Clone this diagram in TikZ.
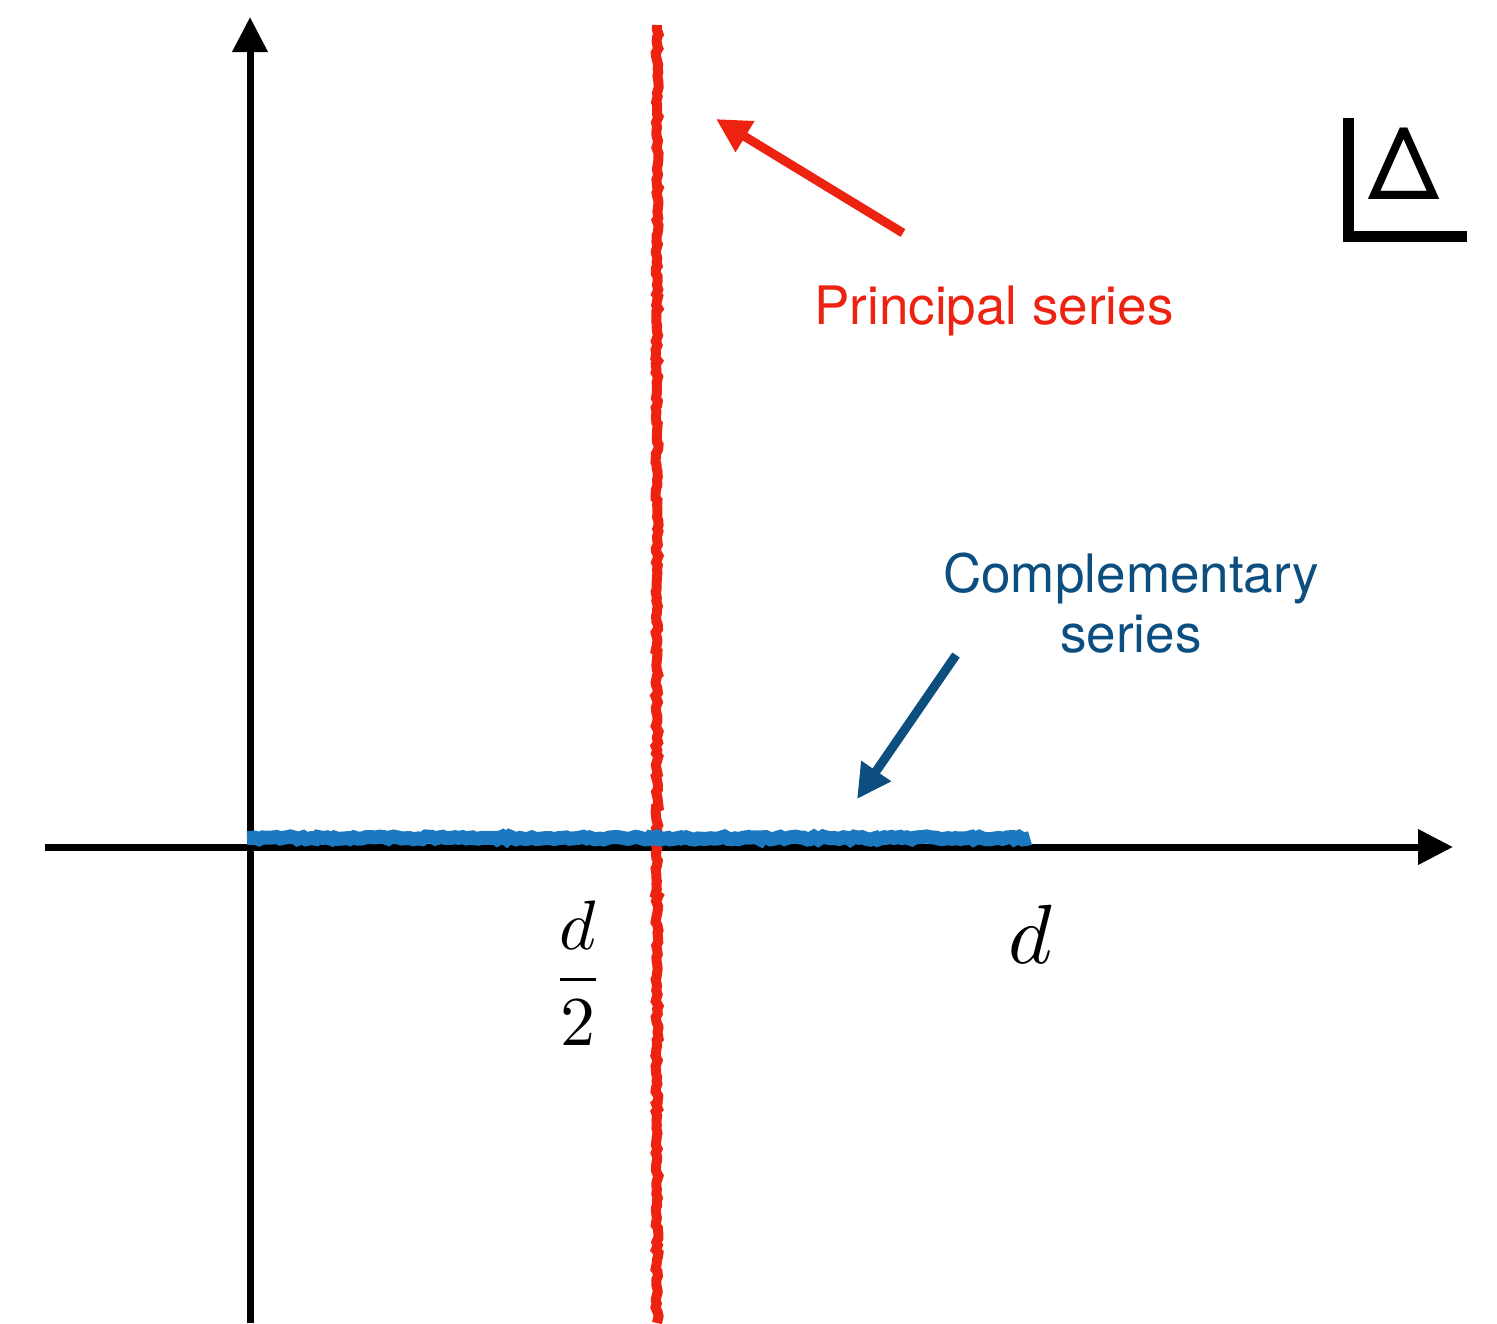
\documentclass[tikz,border=0pt]{standalone}
\usepackage{fontspec}
\setmainfont{TeX Gyre Heros}
\usetikzlibrary{arrows.meta,decorations.pathmorphing}
\definecolor{pred}{HTML}{EE2211}
\definecolor{cblue}{HTML}{1C79C0}
\definecolor{cdark}{HTML}{0B4E7F}
\begin{document}
\begin{tikzpicture}[x=0.5pt,y=-0.5pt,
  axis/.style={line width=3.5pt,-{Triangle[length=17.5pt,width=17pt]}},
  pointer/.style={line width=4.5pt,-{Triangle[length=17pt,width=17pt]}},
  rough/.style={decorate,decoration={random steps,segment length=2pt,amplitude=0.8pt}},
  lbl/.style={font=\fontsize{26.5}{30}\selectfont,anchor=base,inner sep=0pt}]
\useasboundingbox (0,0) rectangle (1497,1323);
% axes
\coordinate (yb) at (250,1323);
\coordinate (yt) at (250,17);
\coordinate (xl) at (45,847);
\coordinate (xr) at (1453,847);
\draw[axis] (yb) -- (yt);
\draw[axis] (xl) -- (xr);
% principal series line
\coordinate (rt) at (657,25);
\coordinate (rb) at (657,1323);
\draw[pred,line width=5pt,rough] (rt) -- (rb);
% complementary series band
\coordinate (bl) at (247,838);
\coordinate (br) at (1030,838);
\draw[cblue,line width=7pt,rough] (bl) -- (br);
% labels
\node[lbl,text=pred] (ps) at (994,324) {Principal series};
\node[lbl,text=cdark] (cs1) at (1131,592) {Complementary};
\node[lbl,text=cdark] (cs2) at (1131,652) {series};
% pointers
\coordinate (ra0) at (903,233);
\coordinate (ra1) at (716,119);
\draw[pred,pointer] (ra0) -- (ra1);
\coordinate (ba0) at (956,655);
\coordinate (ba1) at (857,799);
\draw[cdark,pointer] (ba0) -- (ba1);
% tick labels
\node[anchor=base,inner sep=0pt] (half) at (578,997) {\scalebox{3.5}{$\displaystyle\frac{d}{2}$}};
\node[anchor=base,inner sep=0pt] (dd) at (1030,963) {\scalebox{4.2}{$d$}};
% Delta symbol
\coordinate (lt) at (1348.5,118);
\coordinate (lr) at (1467,236.5);
\draw[line width=5.5pt] (lt) |- (lr);
\node[anchor=base,inner sep=0pt,font=\fontsize{50}{56}\selectfont] (delta) at (1404,199) {Δ};
\end{tikzpicture}
\end{document}
